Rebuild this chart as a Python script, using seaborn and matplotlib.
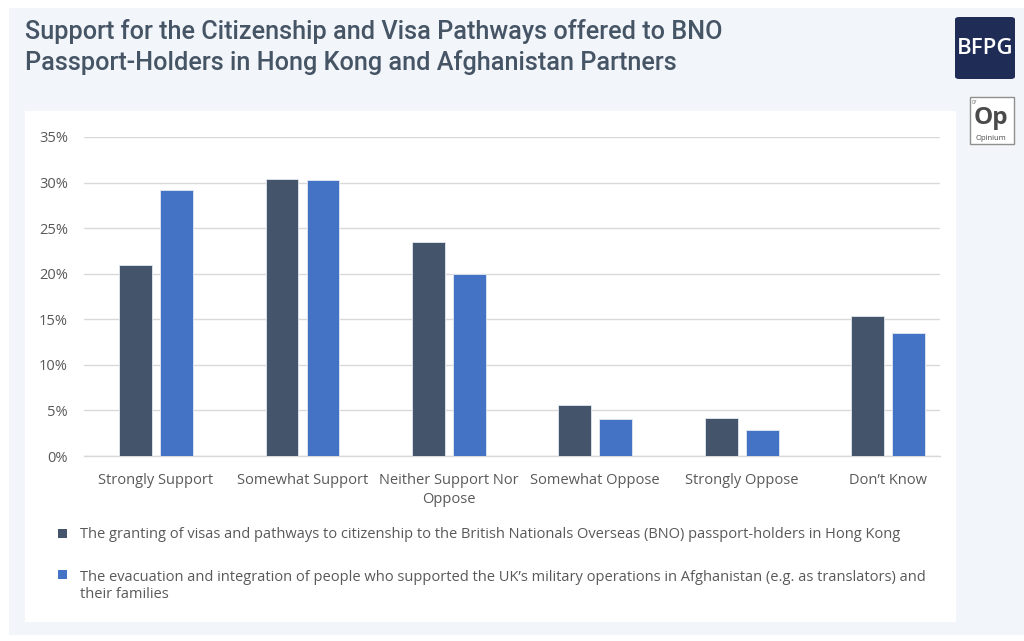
import matplotlib
matplotlib.use("Agg")
import matplotlib.pyplot as plt
from matplotlib.patches import Rectangle, FancyBboxPatch
import seaborn as sns
import pandas as pd

# Survey responses (% of respondents)
categories = ["Strongly Support", "Somewhat Support", "Neither Support Nor\nOppose",
              "Somewhat Oppose", "Strongly Oppose", "Don\u2019t Know"]
bno_hong_kong = [21.0, 30.4, 23.5, 5.6, 4.2, 15.4]
afghan_partners = [29.2, 30.3, 20.0, 4.1, 2.9, 13.5]
series_labels = [
    "The granting of visas and pathways to citizenship to the British Nationals Overseas (BNO) passport-holders in Hong Kong",
    "The evacuation and integration of people who supported the UK\u2019s military operations in Afghanistan (e.g. as translators) and\ntheir families",
]
y_ticks = [0, 5, 10, 15, 20, 25, 30, 35]
title = "Support for the Citizenship and Visa Pathways offered to BNO\nPassport-Holders in Hong Kong and Afghanistan Partners"

colors = ["#44546A", "#4472C4"]
text_grey = "#595959"

df = pd.DataFrame({
    "category": categories * 2,
    "value": bno_hong_kong + afghan_partners,
    "series": [series_labels[0]] * len(categories) + [series_labels[1]] * len(categories),
})

sns.set_theme(style="white")
plt.rcParams["font.family"] = ["Open Sans", "DejaVu Sans"]

W, H = 1024, 641
fig = plt.figure(figsize=(W / 100, H / 100), dpi=100)
fig.patch.set_facecolor("white")

def fx(px):
    return px / W

def fy(py):
    return 1 - py / H

# Light background panel and white chart card
fig.patches.append(Rectangle((fx(9), fy(635)), fx(1024 - 9), (635 - 8) / H,
                             transform=fig.transFigure, facecolor="#F2F5F9",
                             edgecolor="none", zorder=-2))
fig.patches.append(Rectangle((fx(25), fy(622)), fx(956 - 25), (622 - 111) / H,
                             transform=fig.transFigure, facecolor="white",
                             edgecolor="none", zorder=-1))

ax = fig.add_axes([fx(84), fy(456), fx(940 - 84), (456 - 137) / H])
ax.set_facecolor("none")
ax.set_zorder(5)

sns.barplot(data=df, x="category", y="value", hue="series", order=categories,
            hue_order=series_labels, palette=colors, saturation=1,
            width=0.56, gap=0.2, edgecolor="#E3E9F0", linewidth=0.6,
            ax=ax, legend=False, zorder=3)

ax.set_ylim(0, 35)
ax.set_xlim(-0.492, 5.355)
ax.set_yticks(y_ticks)
ax.set_yticklabels([f"{t}%" for t in y_ticks], fontsize=10.5, color=text_grey)
ax.set_xticks(range(len(categories)))
ax.set_xticklabels(categories, fontsize=10.5, color=text_grey, linespacing=1.38)
ax.tick_params(axis="both", length=0)
ax.tick_params(axis="y", pad=11.5)
ax.tick_params(axis="x", pad=12)
ax.set_xlabel("")
ax.set_ylabel("")
ax.set_axisbelow(True)
ax.yaxis.grid(True, color="#D9D9D9", linewidth=1.0)
ax.xaxis.grid(False)
for side in ["top", "right", "left"]:
    ax.spines[side].set_visible(False)
ax.spines["bottom"].set_color("#D9D9D9")
ax.spines["bottom"].set_linewidth(1.0)

# Title
fig.text(fx(25), fy(19), title, ha="left", va="top", fontsize=18.2,
         family=["Roboto", "DejaVu Sans"], fontweight="medium",
         color="#465566", linespacing=1.28)

# Legend: marker squares plus labels; multi-line labels are anchored on
# the baseline of their last line
legend_rows = [533, 574]
line_step = 19
for lbl, col, ypx in zip(series_labels, colors, legend_rows):
    fig.patches.append(Rectangle((fx(58), fy(ypx + 4.5)), fx(9), 9 / H,
                                 transform=fig.transFigure, facecolor=col,
                                 edgecolor="none", zorder=2))
    n_lines = lbl.count("\n") + 1
    fig.text(fx(80), fy(ypx + 5 + (n_lines - 1) * line_step), lbl, ha="left",
             va="baseline", fontsize=10.5, color=text_grey, linespacing=1.2)

# BFPG badge
fig.patches.append(FancyBboxPatch((fx(955), fy(79)), fx(60), 62 / H,
                                  boxstyle="round,pad=0,rounding_size=0.004",
                                  transform=fig.transFigure, facecolor="#1F2C55",
                                  edgecolor="none", zorder=2))
fig.text(fx(985), fy(48), "BFPG", ha="center", va="center", fontsize=16,
         fontweight="semibold", color="white")

# Opinium badge
fig.patches.append(Rectangle((fx(970), fy(144)), fx(44), 47 / H,
                             transform=fig.transFigure, facecolor="white",
                             edgecolor="#8F8F8F", linewidth=1.0, zorder=2))
fig.text(fx(991), fy(118), "Op", ha="center", va="center", fontsize=17.5,
         fontweight="bold", color="#4A4A4A")
fig.text(fx(991), fy(138), "Opinium", ha="center", va="center", fontsize=5.5,
         color="#4A4A4A")
fig.text(fx(972), fy(103), "07", ha="left", va="center", fontsize=3.5,
         color="#666666")

fig.savefig("out.png", dpi=100)
